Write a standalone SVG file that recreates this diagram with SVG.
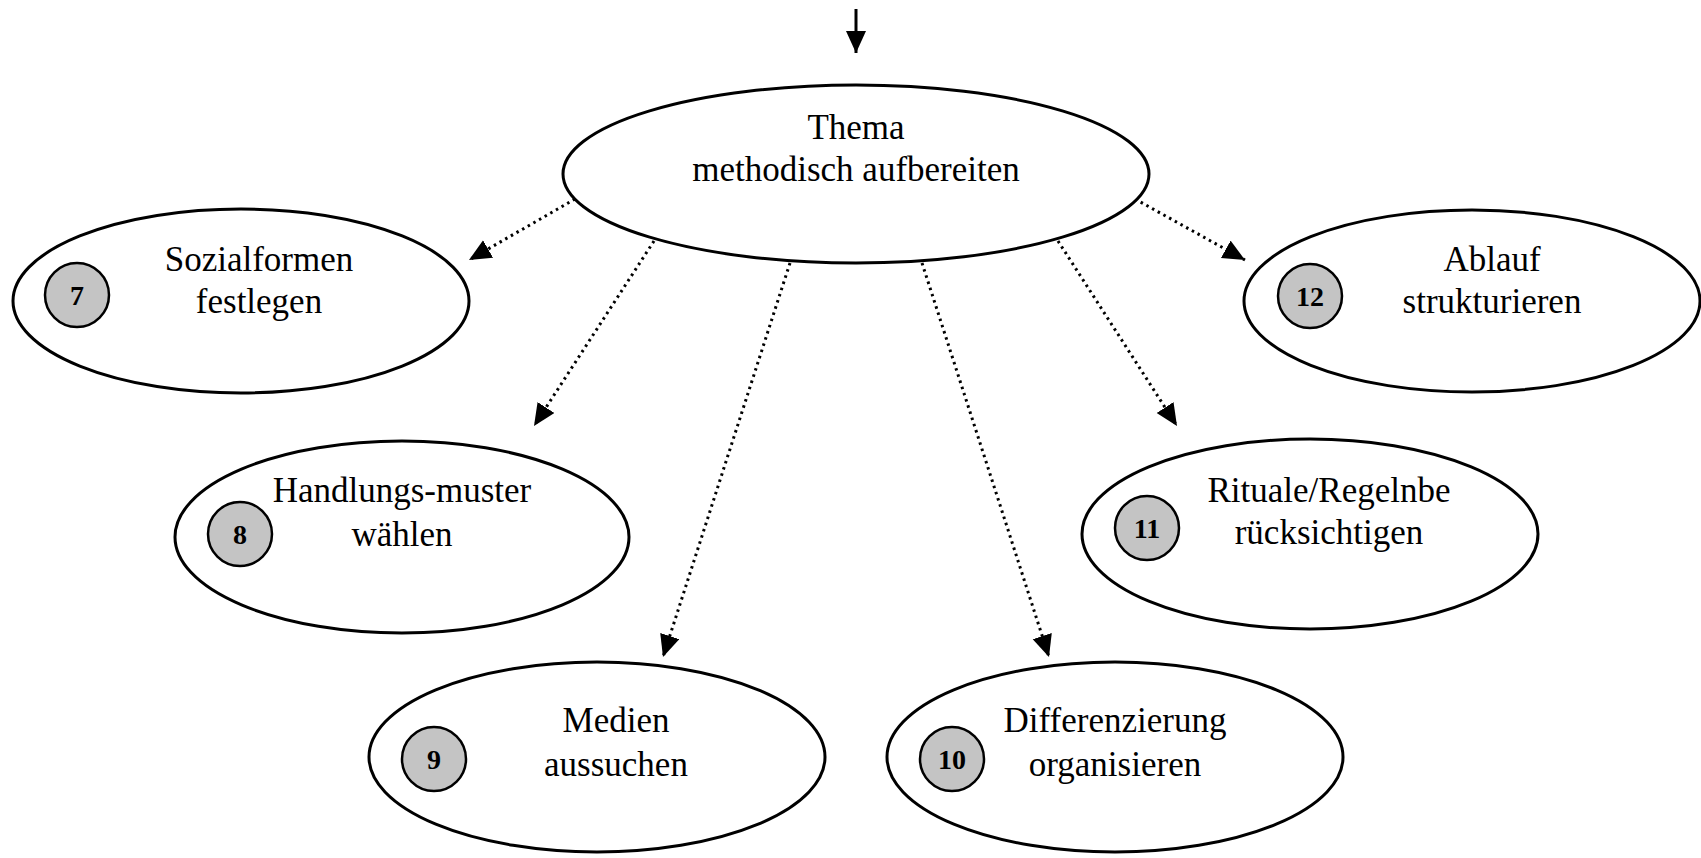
<svg xmlns="http://www.w3.org/2000/svg" width="1701" height="858" viewBox="0 0 1701 858">
  <style>
    .node-shape { fill: #ffffff; stroke: #000000; stroke-width: 3; }
    .badge { fill: #c4c4c4; stroke: #000000; stroke-width: 2.5; }
    .label { font-family: "Liberation Serif", "Times New Roman", serif; font-size: 35px; fill: #000000; text-anchor: middle; }
    .badge-text { font-family: "Liberation Serif", "Times New Roman", serif; font-size: 28px; font-weight: bold; fill: #000000; text-anchor: middle; }
    .dotted { fill: none; stroke: #000000; stroke-width: 3; stroke-dasharray: 2.5 4; }
    .solid { fill: none; stroke: #000000; stroke-width: 3; }
  </style>
  <defs>
    <marker id="arrow" markerUnits="userSpaceOnUse" markerWidth="26" markerHeight="22" refX="22" refY="10" orient="auto">
      <path d="M0,0 L22,10 L0,20 Z" fill="#000000"/>
    </marker>
  </defs>

  <rect x="0" y="0" width="1701" height="858" fill="#ffffff"/>

  <!-- connectors -->
  <g id="connectors">
    <line class="solid" x1="856" y1="9" x2="856" y2="53" marker-end="url(#arrow)"/>
    <line class="dotted" x1="575" y1="199" x2="469" y2="260" marker-end="url(#arrow)"/>
    <line class="dotted" x1="654" y1="241" x2="534" y2="426" marker-end="url(#arrow)"/>
    <line class="dotted" x1="790" y1="263" x2="663" y2="657" marker-end="url(#arrow)"/>
    <line class="dotted" x1="922" y1="263" x2="1049" y2="657" marker-end="url(#arrow)"/>
    <line class="dotted" x1="1058" y1="241" x2="1177" y2="426" marker-end="url(#arrow)"/>
    <line class="dotted" x1="1135" y1="199" x2="1245" y2="260" marker-end="url(#arrow)"/>
  </g>

  <!-- central topic -->
  <g id="node-thema">
    <ellipse class="node-shape" cx="856" cy="174" rx="293" ry="89"/>
    <text class="label" x="856" y="139">Thema</text>
    <text class="label" x="856" y="181">methodisch aufbereiten</text>
  </g>

  <g id="node-7">
    <ellipse class="node-shape" cx="241" cy="301" rx="228" ry="92"/>
    <circle class="badge" cx="77" cy="295" r="32"/>
    <text class="badge-text" x="77" y="305">7</text>
    <text class="label" x="259" y="271">Sozialformen</text>
    <text class="label" x="259" y="313">festlegen</text>
  </g>

  <g id="node-8">
    <ellipse class="node-shape" cx="402" cy="537" rx="227" ry="96"/>
    <circle class="badge" cx="240" cy="534" r="32"/>
    <text class="badge-text" x="240" y="544">8</text>
    <text class="label" x="402" y="502">Handlungs-muster</text>
    <text class="label" x="402" y="546">wählen</text>
  </g>

  <g id="node-9">
    <ellipse class="node-shape" cx="597" cy="757" rx="228" ry="95"/>
    <circle class="badge" cx="434" cy="759" r="32"/>
    <text class="badge-text" x="434" y="769">9</text>
    <text class="label" x="616" y="732">Medien</text>
    <text class="label" x="616" y="776">aussuchen</text>
  </g>

  <g id="node-10">
    <ellipse class="node-shape" cx="1115" cy="757" rx="228" ry="95"/>
    <circle class="badge" cx="952" cy="759" r="32"/>
    <text class="badge-text" x="952" y="769">10</text>
    <text class="label" x="1115" y="732">Differenzierung</text>
    <text class="label" x="1115" y="776">organisieren</text>
  </g>

  <g id="node-11">
    <ellipse class="node-shape" cx="1310" cy="534" rx="228" ry="95"/>
    <circle class="badge" cx="1147" cy="528" r="32"/>
    <text class="badge-text" x="1147" y="538">11</text>
    <text class="label" x="1329" y="502">Rituale/Regelnbe</text>
    <text class="label" x="1329" y="544">rücksichtigen</text>
  </g>

  <g id="node-12">
    <ellipse class="node-shape" cx="1472" cy="301" rx="228" ry="91"/>
    <circle class="badge" cx="1310" cy="296" r="32"/>
    <text class="badge-text" x="1310" y="306">12</text>
    <text class="label" x="1492" y="271">Ablauf</text>
    <text class="label" x="1492" y="313">strukturieren</text>
  </g>
</svg>
